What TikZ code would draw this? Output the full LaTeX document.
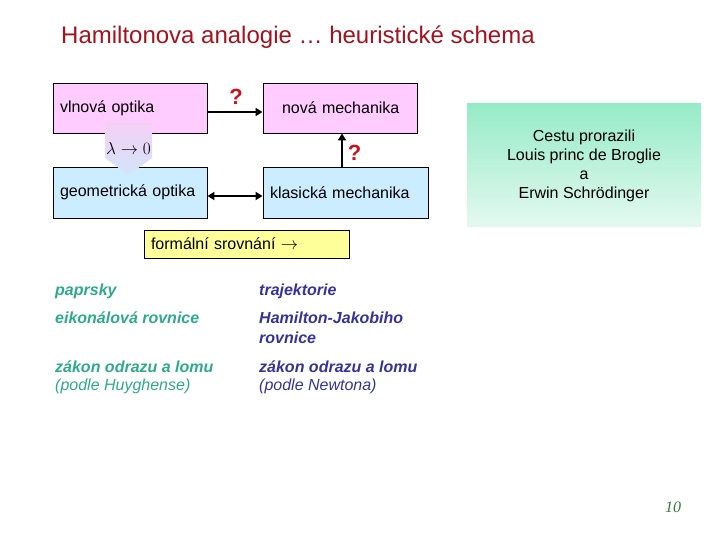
\documentclass[tikz,border=0pt]{standalone}
\usepackage{fontspec}
\setmainfont{Liberation Sans}
\newfontfamily\pagefont{Liberation Serif}
\usetikzlibrary{arrows.meta, positioning, calc}
\definecolor{titlered}{RGB}{165,18,30}
\definecolor{qred}{RGB}{200,20,30}
\definecolor{pinkbox}{RGB}{255,204,255}
\definecolor{bluebox}{RGB}{204,236,255}
\definecolor{yellowbox}{RGB}{255,255,153}
\definecolor{mintTop}{RGB}{150,235,200}
\definecolor{mintBot}{RGB}{228,249,240}
\definecolor{optcol}{RGB}{45,170,138}
\definecolor{mechcol}{RGB}{51,51,153}
\definecolor{pagecol}{RGB}{50,120,60}
\definecolor{limTop}{RGB}{245,208,245}
\definecolor{limBot}{RGB}{212,228,250}
\tikzset{
  optbox/.style={draw, line width=0.9pt, minimum height=50pt, align=left, inner xsep=7pt},
  link/.style={-{Triangle[length=7pt,width=8pt]}, line width=2.6pt},
  quest/.style={text=qred, font=\bfseries\fontsize{22}{22}\selectfont},
  optrow/.style={anchor=base west, inner sep=0pt, text=optcol},
  mechrow/.style={anchor=base west, inner sep=0pt, text=mechcol}
}

\begin{document}
\begin{tikzpicture}[x=1pt, y=-1pt, font=\fontsize{16}{19}\selectfont]
        \useasboundingbox (0,0) rectangle (720,540);

        % Title
        \node[anchor=west, inner sep=0pt, text=titlered, font=\fontsize{24}{27}\selectfont] (title) at (61,37) {Hamiltonova analogie … heuristické schema};

        % Boxes
        \node[optbox, fill=pinkbox, text width=140pt] (vlnova) at (130,108) {vlnová optika};
        \node[optbox, fill=pinkbox, text width=140pt] (nova) at (340,108) {\hspace*{12pt}nová mechanika};
        \node[optbox, fill=bluebox, text width=140pt, minimum height=51pt] (geom) at (130,192.5) {geometrická optika};
        \node[optbox, fill=bluebox, text width=151pt, minimum height=51pt] (klas) at (345.5,192.5) {klasická mechanika};

        % Limit arrow
        \shade[top color=limTop, bottom color=limBot, draw=none]
          (105,122) -- (152,122) -- (152,158) -- (128.5,175) -- (105,158) -- cycle;
        \node[font=\fontsize{16.5}{16}\selectfont] (lam) at (128.5,149) {$\lambda\rightarrow 0$};

        % Links
        \draw[link] ([yshift=-4pt]vlnova.east) -- ([yshift=-4pt]nova.west);
        \draw[link] ([xshift=-3.5pt]klas.north) -- ([xshift=-3.5pt]klas.north |- nova.south);
        \draw[link, {Triangle[length=7pt,width=8pt]}-{Triangle[length=7pt,width=8pt]}] ([yshift=-3.5pt]geom.east) -- ([yshift=-3.5pt]klas.west);

        \node[quest] (q1) at (236,97) {?};
        \node[quest] (q2) at (354.5,152.5) {?};

        % Side note
        \node[minimum width=234pt, minimum height=123pt, top color=mintTop, bottom color=mintBot, align=center] (cestu) at (584,165.5)
          {Cestu prorazili\\Louis princ de Broglie\\a\\Erwin Schrödinger};

        % Comparison
        \node[draw, line width=0.6pt, fill=yellowbox, minimum width=205pt, minimum height=28pt, text width=191pt, inner xsep=7pt, align=left] (formal) at (246.5,244) {formální srovnání $\rightarrow$};

        \node[optrow, font=\bfseries\itshape\fontsize{16}{19}\selectfont] (ray) at (55,295) {paprsky};
        \node[optrow, font=\bfseries\itshape\fontsize{16}{19}\selectfont] (eik) at (55,323) {eikonálová rovnice};
        \node[optrow, font=\bfseries\itshape\fontsize{16}{19}\selectfont] (zlo) at (55,372) {zákon odrazu a lomu};
        \node[optrow, font=\itshape\fontsize{16}{19}\selectfont] (huy) at (55,390) {(podle Huyghense)};

        \node[mechrow, font=\bfseries\itshape\fontsize{16}{19}\selectfont] (traj) at (259,295) {trajektorie};
        \node[mechrow, font=\bfseries\itshape\fontsize{16}{19}\selectfont] (hj) at (259,323) {Hamilton-Jakobiho};
        \node[mechrow, font=\bfseries\itshape\fontsize{16}{19}\selectfont] (hjr) at (259,343) {rovnice};
        \node[mechrow, font=\bfseries\itshape\fontsize{16}{19}\selectfont] (zln) at (259,372) {zákon odrazu a lomu};
        \node[mechrow, font=\itshape\fontsize{16}{19}\selectfont] (newt) at (259,390) {(podle Newtona)};

        % Page number
        \node[text=pagecol, font=\pagefont\itshape\fontsize{16}{16}\selectfont] (pg) at (673,507) {10};
    \end{tikzpicture}
\end{document}
